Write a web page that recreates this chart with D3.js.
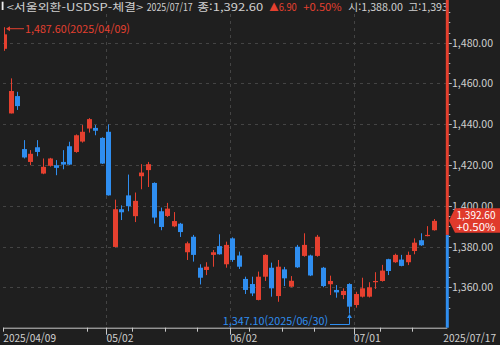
<!DOCTYPE html>
<html lang="ko">
<head>
<meta charset="UTF-8">
<title>서울외환 USDSP</title>
<script src="https://d3js.org/d3.v7.min.js"></script>
<style>
  html, body { margin: 0; padding: 0; background: #1f1f1f; }
  svg { display: block; }
  text { font-family: "Noto Sans CJK KR", "Noto Sans", sans-serif; font-size: 11px; }
  .head text, .pbox { font-size: 10.5px; }
</style>
</head>
<body>
<svg id="chart"></svg>
<script>
// daily candles, Seoul FX USD/KRW
const dates = ["04/09","04/10","04/11","04/14","04/15","04/16","04/17","04/18","04/21","04/22",
  "04/23","04/24","04/25","04/28","04/29","04/30","05/02","05/07","05/08","05/09",
  "05/12","05/13","05/14","05/15","05/16","05/19","05/20","05/21","05/22","05/23",
  "05/26","05/27","05/28","05/29","05/30","06/02","06/04","06/05","06/09","06/10",
  "06/11","06/12","06/13","06/16","06/17","06/18","06/19","06/20","06/23","06/24",
  "06/25","06/26","06/27","06/30","07/01","07/02","07/03","07/04","07/07","07/08",
  "07/09","07/10","07/11","07/14","07/15","07/16","07/17"];
const open = [1477,1445.3,1453.8,1427.8,1421.5,1428.7,1415.8,1419.6,1419.9,1421.5,
  1429.2,1426.4,1431.5,1437.9,1438.2,1433.3,1436.3,1379.8,1398.3,1405.1,
  1394.9,1414.5,1417.5,1411.2,1397.3,1395,1389.9,1391.2,1377.2,1384.8,
  1369.6,1368.5,1375.9,1380.2,1371.3,1384,1375.6,1364.1,1361.6,1353.8,
  1365.2,1369.6,1355.7,1368.8,1360.3,1379.9,1375.4,1375.6,1375.4,1369.6,
  1361.5,1358.7,1356.2,1361.6,1351.3,1355.4,1355.4,1362.5,1363.1,1373.8,
  1372.3,1373.6,1372.3,1377.8,1383.1,1385.2,1388];
const high = [1487.6,1462.5,1455.9,1432.2,1427.3,1432.2,1423.2,1423.5,1422.4,1427.3,
  1431.4,1435,1439.6,1443,1439.6,1433.6,1439.9,1403,1400.2,1415.3,
  1406.5,1420.4,1421.5,1411.5,1399.1,1401.4,1396.9,1391.6,1382.4,1385.7,
  1371.3,1372.3,1378.3,1386,1382.4,1384.5,1377.5,1365.2,1365.2,1367.7,
  1376.2,1372.1,1373.4,1370,1365.5,1380.8,1386.5,1376,1385.7,1370,
  1365.7,1361.1,1359.5,1362,1357.8,1364.7,1362.5,1367.4,1371,1374,
  1376.5,1375.9,1377.5,1384,1386.5,1390,1393.5];
const low = [1476,1445.3,1447,1423.2,1419.9,1424.3,1415.5,1419.2,1415,1417.9,
  1419.9,1426,1431,1435.9,1434.6,1420.5,1405,1379.6,1393,1397.3,
  1392,1408.1,1409.2,1391.3,1388,1394.5,1389.5,1384.7,1373.4,1372.6,
  1361.4,1366,1370.1,1376,1369.6,1372.5,1369,1356.7,1355.7,1353.6,
  1363.1,1355.4,1352.9,1360.6,1360,1369.5,1375,1365.5,1375,1360,
  1356.2,1354.9,1354.2,1347.1,1350,1355,1355,1359.2,1362.8,1366,
  1372,1370.3,1370.9,1376.2,1380.3,1385,1387.8];
const close = [1484.1,1456.3,1448.9,1423.7,1425.5,1426.4,1419.1,1423.2,1418.6,1420.2,
  1420.2,1434.6,1436.3,1442.5,1436.8,1420.7,1405.1,1398.3,1396.8,1399.8,
  1402.4,1416.3,1420.4,1394.2,1389.6,1398.6,1392.5,1387.1,1381.6,1375.9,
  1364.7,1370.1,1377.2,1376.2,1380.8,1373.4,1370.1,1358.7,1357,1365.2,
  1375.9,1359.5,1370.1,1364.4,1363.2,1369.8,1380.8,1365.8,1384.8,1360.6,
  1363.1,1357.5,1358.2,1350.5,1356.7,1359.5,1360,1363.1,1368.2,1368,
  1375.9,1370.5,1375.9,1381.9,1380.6,1385.7,1392.6];

const yTicks = [1360, 1380, 1400, 1420, 1440, 1460, 1480];
const monthTicks = ["05/02", "06/02", "07/01"];
const weekTicks = ["04/09","04/28","05/12","05/19","05/26","06/09","06/16","06/23","07/07","07/14"];
const prevClose = 1385.7;

const W = 500, H = 345;
const RED = "#e5402f", BLUE = "#2f8ef0", GRID = "#444", TXT = "#d0d0d0";
const axisX = 447.3, baseY = 327.7;

const svg = d3.select("#chart").attr("width", W).attr("height", H);
svg.append("rect").attr("width", W).attr("height", H).attr("fill", "#1f1f1f");

const x = d3.scalePoint().domain(dates).range([4.3, 4.3 + 66 * 6.51]);
const y = d3.scaleLinear().domain([1360, 1480]).range([287.3, 42.7]);

const defs = svg.append("defs");
defs.append("clipPath").attr("id", "plot").append("rect")
    .attr("x", 4).attr("y", 0).attr("width", axisX - 5).attr("height", baseY);
defs.append("clipPath").attr("id", "head").append("rect")
    .attr("x", 0).attr("y", 0).attr("width", axisX - 1.5).attr("height", 20);

// grid
svg.append("g").selectAll("line").data(yTicks).join("line")
    .attr("x1", 3).attr("x2", axisX - 1.5)
    .attr("y1", d => Math.round(y(d)) + 0.5).attr("y2", d => Math.round(y(d)) + 0.5)
    .attr("stroke", GRID).attr("stroke-dasharray", "3,4");
svg.append("g").selectAll("line").data(monthTicks).join("line")
    .attr("x1", d => Math.round(x(d) - 2) + 0.5).attr("x2", d => Math.round(x(d) - 2) + 0.5)
    .attr("y1", 14).attr("y2", baseY)
    .attr("stroke", GRID).attr("stroke-dasharray", "3,4");

// candles
const candles = svg.append("g").attr("clip-path", "url(#plot)")
    .selectAll("g").data(dates.map((d, i) => ({ d, o: open[i], h: high[i], l: low[i], c: close[i] })))
    .join("g");
candles.append("line")
    .attr("x1", d => Math.round(x(d.d)) + 0.5).attr("x2", d => Math.round(x(d.d)) + 0.5)
    .attr("y1", d => y(d.h)).attr("y2", d => y(d.l))
    .attr("stroke", d => d.c >= d.o ? RED : BLUE);
candles.append("rect")
    .attr("x", d => Math.round(x(d.d)) - 2)
    .attr("width", 5)
    .attr("y", d => y(Math.max(d.o, d.c)))
    .attr("height", d => Math.max(1.2, Math.abs(y(d.o) - y(d.c))))
    .attr("fill", d => d.c >= d.o ? RED : BLUE);

// high / low markers
const hiY = y(high[0]) + 1.5;
svg.append("line").attr("x1", 7).attr("x2", 24).attr("y1", hiY).attr("y2", hiY).attr("stroke", RED);
svg.append("path").attr("d", `M6,${hiY} l4,-2.5 v5 z`).attr("fill", RED);
svg.append("text").attr("x", 25).attr("y", hiY + 4).attr("fill", RED)
    .attr("textLength", 105).attr("lengthAdjust", "spacingAndGlyphs")
    .text(`${d3.format(",.2f")(high[0])}(2025/${dates[0]})`);

const lowI = low.indexOf(d3.min(low));
const lx = Math.round(x(dates[lowI])) + 0.5;
svg.append("path").attr("d", `M330,324.5 H${lx} V${y(low[lowI]) + 1.5}`)
    .attr("fill", "none").attr("stroke", BLUE);
svg.append("path").attr("d", `M${lx},${y(low[lowI]) + 0.5} l-2.5,4 h5 z`).attr("fill", BLUE);
svg.append("text").attr("x", 222.7).attr("y", 325).attr("fill", BLUE)
    .attr("textLength", 105.5).attr("lengthAdjust", "spacingAndGlyphs")
    .text(`${d3.format(",.2f")(low[lowI])}(2025/${dates[lowI]})`);

// x axis
svg.append("line").attr("x1", 3).attr("x2", axisX).attr("y1", baseY + 0.5).attr("y2", baseY + 0.5)
    .attr("stroke", "#c8c8c8");
svg.append("g").selectAll("line").data(weekTicks).join("line")
    .attr("x1", d => Math.max(3.5, Math.round(x(d) - 2.3) + 0.5)).attr("x2", d => Math.max(3.5, Math.round(x(d) - 2.3) + 0.5))
    .attr("y1", baseY).attr("y2", baseY + 4).attr("stroke", "#c8c8c8");
svg.append("g").selectAll("line").data(monthTicks).join("line")
    .attr("x1", d => Math.round(x(d) - 2) + 0.5).attr("x2", d => Math.round(x(d) - 2) + 0.5)
    .attr("y1", baseY).attr("y2", baseY + 7).attr("stroke", "#c8c8c8");
const xLabels = [
  { t: "2025/" + dates[0], x: 3.3, w: 52.7 },
  ...monthTicks.map(d => ({ t: d, x: x(d) - 2, w: 27 })),
  { t: "2025/" + dates[dates.length - 1], x: 443.3, w: 52.7 }
];
svg.append("g").selectAll("text").data(xLabels).join("text")
    .attr("x", d => d.x).attr("y", 341.5).attr("fill", TXT)
    .attr("textLength", d => d.w).attr("lengthAdjust", "spacingAndGlyphs")
    .text(d => d.t);

// right axis: red above previous close, blue below
svg.append("line").attr("x1", axisX).attr("x2", axisX).attr("y1", 0).attr("y2", y(prevClose))
    .attr("stroke", RED).attr("stroke-width", 3);
svg.append("line").attr("x1", axisX).attr("x2", axisX).attr("y1", y(prevClose)).attr("y2", baseY)
    .attr("stroke", BLUE).attr("stroke-width", 3);
const minor = d3.range(1350, 1500, 5).filter(v => y(v) > 2 && y(v) < baseY - 2);
svg.append("g").selectAll("line").data(minor).join("line")
    .attr("x1", axisX + 1.5).attr("x2", d => axisX + (d % 20 === 0 ? 4.5 : 3))
    .attr("y1", d => Math.round(y(d)) + 0.5).attr("y2", d => Math.round(y(d)) + 0.5)
    .attr("stroke", "#bbb");
svg.append("g").selectAll("text").data(yTicks).join("text")
    .attr("x", 452).attr("y", d => y(d) + 4).attr("fill", TXT)
    .attr("textLength", 41).attr("lengthAdjust", "spacingAndGlyphs")
    .text(d => d3.format(",.2f")(d));

// last price box
const last = close[close.length - 1];
const ly = y(last);
svg.append("path").attr("d", `M449,${ly} L455,${ly - 12.5} H500 V${ly + 12} H455 Z`).attr("fill", "#e03a2c");
svg.append("text").attr("class", "pbox").attr("x", 456.5).attr("y", ly - 1.8).attr("fill", "#fff")
    .attr("textLength", 39).attr("lengthAdjust", "spacingAndGlyphs").text(d3.format(",.2f")(last));
const pct = (last - prevClose) / prevClose;
svg.append("text").attr("class", "pbox").attr("x", 456.5).attr("y", ly + 9.8).attr("fill", "#fff")
    .attr("textLength", 39).attr("lengthAdjust", "spacingAndGlyphs").text("+" + d3.format(".2%")(pct));

// header
svg.append("rect").attr("x", 1.7).attr("y", 1.7).attr("width", 1.8).attr("height", 8.3).attr("fill", "#eee");
const head = svg.append("g").attr("class", "head").attr("clip-path", "url(#head)");
const parts = [
  { t: "<서울외환-USDSP-체결>", x: 6.7, w: 136.5, c: TXT },
  { t: "2025/" + dates[dates.length - 1], x: 146.7, w: 46, c: TXT },
  { t: "종:" + d3.format(",.2f")(last), x: 197.2, w: 66, c: TXT },
  { t: "▲" + d3.format(".2f")(last - prevClose), x: 269.3, w: 27.5, c: RED },
  { t: "+" + d3.format(".2%")(pct), x: 303.3, w: 38.4, c: RED },
  { t: "시:" + d3.format(",.2f")(open[open.length - 1]), x: 348.3, w: 54.7, c: TXT },
  { t: "고:" + d3.format(",.2f")(high[high.length - 1]), x: 408.3, w: 54.7, c: TXT }
];
head.selectAll("text").data(parts).join("text")
    .attr("x", d => d.x).attr("y", 11).attr("fill", d => d.c)
    .attr("textLength", d => d.w).attr("lengthAdjust", "spacingAndGlyphs")
    .text(d => d.t);
</script>
</body>
</html>
